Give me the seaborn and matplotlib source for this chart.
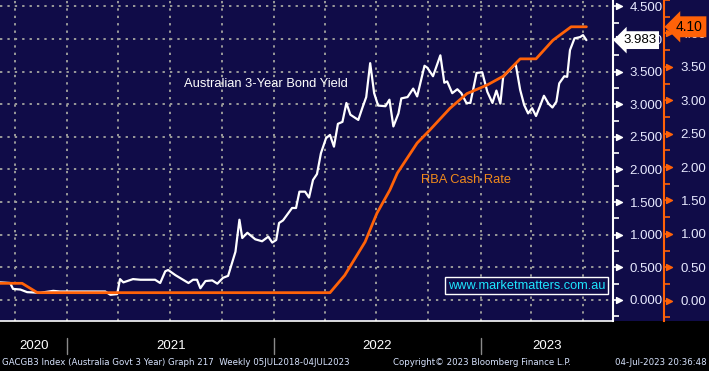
import pandas as pd
import numpy as np
import matplotlib
matplotlib.use('Agg')
import matplotlib.pyplot as plt
import matplotlib.dates as mdates
from matplotlib.ticker import MultipleLocator, NullFormatter
import seaborn as sns

# Australian 3-year govt bond yield (white line, inner scale)
bond_dates = ['2020-09-04', '2020-09-22', '2020-09-27', '2020-10-10', '2020-10-22', '2020-11-14',
              '2020-12-07', '2020-12-19', '2021-01-24', '2021-03-09', '2021-03-18', '2021-03-30',
              '2021-04-04', '2021-04-10', '2021-04-27', '2021-05-10', '2021-06-05', '2021-06-14',
              '2021-06-23', '2021-06-28', '2021-07-11', '2021-08-03', '2021-08-11', '2021-08-18',
              '2021-08-24', '2021-09-02', '2021-09-14', '2021-09-23', '2021-10-03', '2021-10-12',
              '2021-10-25', '2021-11-01', '2021-11-06', '2021-11-15', '2021-11-29', '2021-12-11',
              '2021-12-22', '2021-12-29', '2022-01-05', '2022-01-10', '2022-01-17', '2022-02-02',
              '2022-02-09', '2022-02-15', '2022-02-25', '2022-03-04', '2022-03-11', '2022-03-18',
              '2022-03-25', '2022-04-03', '2022-04-10', '2022-04-17', '2022-04-24', '2022-05-02',
              '2022-05-09', '2022-05-16', '2022-05-30', '2022-06-06', '2022-06-13', '2022-06-20',
              '2022-06-27', '2022-07-04', '2022-07-17', '2022-07-24', '2022-07-31', '2022-08-09',
              '2022-08-14', '2022-08-25', '2022-09-04', '2022-09-11', '2022-09-24', '2022-09-29',
              '2022-10-09', '2022-10-22', '2022-10-29', '2022-11-03', '2022-11-12', '2022-11-21',
              '2022-11-28', '2022-12-07', '2022-12-14', '2022-12-25', '2023-01-04', '2023-01-13',
              '2023-01-22', '2023-01-29', '2023-02-05', '2023-02-10', '2023-03-04', '2023-03-12',
              '2023-03-19', '2023-03-26', '2023-04-02', '2023-04-09', '2023-04-16', '2023-04-23',
              '2023-05-01', '2023-05-08', '2023-05-15', '2023-05-20', '2023-05-29', '2023-06-03',
              '2023-06-08', '2023-06-16', '2023-06-26', '2023-07-01', '2023-07-07']
bond_yield = [0.27, 0.26, 0.17, 0.16, 0.12, 0.11,
              0.14, 0.13, 0.13, 0.13, 0.08, 0.09,
              0.32, 0.27, 0.32, 0.31, 0.31, 0.26,
              0.44, 0.46, 0.38, 0.26, 0.31, 0.31,
              0.18, 0.29, 0.30, 0.25, 0.34, 0.37,
              0.74, 1.23, 0.95, 1.03, 0.93, 0.90,
              0.97, 0.88, 0.92, 1.18, 1.22, 1.41,
              1.41, 1.66, 1.66, 1.57, 1.84, 1.93,
              2.25, 2.48, 2.53, 2.35, 2.70, 2.73,
              3.02, 2.84, 2.76, 2.94, 3.11, 3.63,
              3.17, 2.98, 2.97, 3.07, 2.66, 2.86,
              3.09, 3.11, 3.24, 3.12, 3.59, 3.56,
              3.43, 3.75, 3.33, 3.35, 3.17, 3.23,
              3.17, 3.02, 3.02, 3.48, 3.49, 3.19,
              3.02, 3.21, 3.01, 3.42, 3.62, 3.22,
              2.99, 2.86, 2.94, 2.82, 2.97, 3.13,
              3.01, 2.95, 3.04, 3.32, 3.43, 3.42,
              3.83, 4.01, 4.03, 4.06, 3.983]

# RBA cash rate (orange line, outer scale)
cash_dates = ['2020-09-04', '2020-10-13', '2020-11-09', '2022-04-10', '2022-05-06', '2022-06-11',
              '2022-07-02', '2022-07-25', '2022-08-07', '2022-09-11', '2022-10-04', '2022-11-08',
              '2022-12-08', '2023-01-13', '2023-02-10', '2023-03-12', '2023-04-09', '2023-05-09',
              '2023-06-10', '2023-07-07']
cash_rate = [0.26, 0.26, 0.12, 0.12, 0.38, 0.88,
             1.31, 1.66, 1.91, 2.36, 2.56, 2.88,
             3.10, 3.23, 3.36, 3.62, 3.62, 3.90,
             4.10, 4.10]

year_labels = ['2020', '2021', '2022', '2023']
year_starts = ['2021-01-01', '2022-01-01', '2023-01-01']
left_ticks = [0.0, 0.5, 1.0, 1.5, 2.0, 2.5, 3.0, 3.5, 4.0, 4.5]
right_ticks = [0.0, 0.5, 1.0, 1.5, 2.0, 2.5, 3.0, 3.5, 4.0]

NAVY = '#100c48'
ORANGE = '#ff6208'
GRID = '#9a9a9a'
LABEL = '#e8eaff'

bond = pd.DataFrame({'date': pd.to_datetime(bond_dates), 'yield': bond_yield})
cash = pd.DataFrame({'date': pd.to_datetime(cash_dates), 'rate': cash_rate})

sns.set_style('dark')
plt.rcParams['font.family'] = ['Liberation Sans', 'DejaVu Sans']

fig = plt.figure(figsize=(7.09, 3.71), dpi=100, facecolor='black')
# navy panel behind the plot + tick label area, black strip at the bottom
fig.patches.append(plt.Rectangle((0, 0.1348), 1, 0.8652, transform=fig.transFigure,
                                 facecolor=NAVY, edgecolor='none', zorder=-10))
ax = fig.add_axes([0, 0.1348, 0.8646, 0.8652])
ax.set_facecolor(NAVY)
ax2 = ax.twinx()

sns.lineplot(data=bond, x='date', y='yield', ax=ax, color='white', linewidth=1.6)
sns.lineplot(data=cash, x='date', y='rate', ax=ax2, color=ORANGE, linewidth=2.0)

x0, x1 = pd.Timestamp('2020-09-04'), pd.Timestamp('2023-08-23')
ax.set_xlim(x0, x1)
ax.set_ylim(-0.322, 4.598)
ax2.set_ylim(-0.304, 4.501)
for a in (ax, ax2):
    a.set_xlabel('')
    a.set_ylabel('')

# x axis: quarterly grid, monthly ticks
ax.xaxis.set_major_locator(mdates.MonthLocator(bymonth=[1, 4, 7, 10]))
ax.xaxis.set_minor_locator(mdates.MonthLocator())
ax.xaxis.set_major_formatter(NullFormatter())
ax.tick_params(axis='x', which='both', colors='white', direction='out', length=4, width=1.2)

# inner (bond) scale
ax.yaxis.tick_right()
ax.set_yticks(left_ticks)
ax.set_yticklabels([f'{v:.3f}' for v in left_ticks])
ax.yaxis.set_minor_locator(MultipleLocator(0.25))
ax.tick_params(axis='y', which='both', colors='white', labelcolor=LABEL, direction='out',
               length=4, width=1.2, pad=8, labelsize=9.5, left=False, right=True)

# outer (cash rate) scale
ax2.set_yticks(right_ticks)
ax2.set_yticklabels([f'{v:.2f}' for v in right_ticks])
ax2.yaxis.set_minor_locator(MultipleLocator(0.25))
ax2.tick_params(axis='y', which='both', colors=ORANGE, labelcolor=LABEL, direction='out',
                length=4, width=1.2, pad=8, labelsize=9.5)
ax2.spines['right'].set_position(('axes', 1.0832))

ax.grid(True, which='major', color=GRID, linestyle=(0, (1.2, 2.6)), linewidth=1.4)
ax.set_axisbelow(True)
ax2.grid(False)

for s in ['left', 'top']:
    ax.spines[s].set_visible(False)
ax.spines['right'].set_color('white')
ax.spines['right'].set_linewidth(1.5)
ax.spines['bottom'].set_color('white')
ax.spines['bottom'].set_linewidth(1.2)
for s in ['left', 'top', 'bottom']:
    ax2.spines[s].set_visible(False)
ax2.spines['right'].set_color(ORANGE)
ax2.spines['right'].set_linewidth(1.5)

# little triangle flags on the major ticks
ax.scatter([1.010] * len(left_ticks), left_ticks, marker='>', s=18, color='white',
           transform=ax.get_yaxis_transform(), clip_on=False, zorder=5)
ax2.scatter([1.0915] * len(right_ticks), right_ticks, marker='>', s=18, color=ORANGE,
            transform=ax2.get_yaxis_transform(), clip_on=False, zorder=5)

# last value tags
ax.text(1.0 + 10 / 613, bond_yield[-1], f'{bond_yield[-1]:.3f}', transform=ax.get_yaxis_transform(),
        ha='left', va='center', fontsize=9.5, color='black', zorder=10, clip_on=False,
        bbox=dict(boxstyle='larrow,pad=0.22', fc='white', ec='none'))
ax2.text(1.0832 + 12 / 613, cash_rate[-1], f'{cash_rate[-1]:.2f}', transform=ax2.get_yaxis_transform(),
         ha='left', va='center', fontsize=10, color='black', zorder=10, clip_on=False,
         bbox=dict(boxstyle='larrow,pad=0.25', fc=ORANGE, ec='none'))

# series labels
ax.text(pd.Timestamp('2021-07-26'), 3.31, 'Australian 3-Year Bond Yield', color='white',
        fontsize=9.3, ha='left', va='center')
ax.text(pd.Timestamp('2022-09-18'), 1.84, 'RBA Cash Rate', color='#f08a1c',
        fontsize=9.3, ha='left', va='center')
ax.text(0.987, 0.11, 'www.marketmatters.com.au', transform=ax.transAxes, color='#1ee6ff',
        fontsize=9.2, ha='right', va='center',
        bbox=dict(boxstyle='square,pad=0.2', fc=NAVY, ec='white', lw=1))

# year labels under the axis with separators
bounds = [x0] + [pd.Timestamp(d) for d in year_starts] + [x1]
for i, lab in enumerate(year_labels):
    mid = bounds[i] + (bounds[i + 1] - bounds[i]) / 2
    ax.text(mid, -0.078, lab, transform=ax.get_xaxis_transform(), ha='center', va='center',
            color='white', fontsize=9.5)
for b in bounds[1:-1]:
    ax.plot([b, b], [-0.053, -0.103], transform=ax.get_xaxis_transform(), color='#8a8a8a',
            lw=1, clip_on=False)

# footer
foot = dict(color='#d8e4ff', fontsize=6.2, va='center', family=['Liberation Sans Narrow', 'DejaVu Sans'])
fig.text(0.003, 0.022, 'GACGB3 Index (Australia Govt 3 Year) Graph 217  Weekly 05JUL2018-04JUL2023',
         ha='left', **foot)
fig.text(0.555, 0.022, 'Copyright\u00a9 2023 Bloomberg Finance L.P.', ha='left', **foot)
fig.text(0.997, 0.022, '04-Jul-2023 20:36:48', ha='right', **foot)

fig.savefig('out.png', dpi=100, facecolor='black')
